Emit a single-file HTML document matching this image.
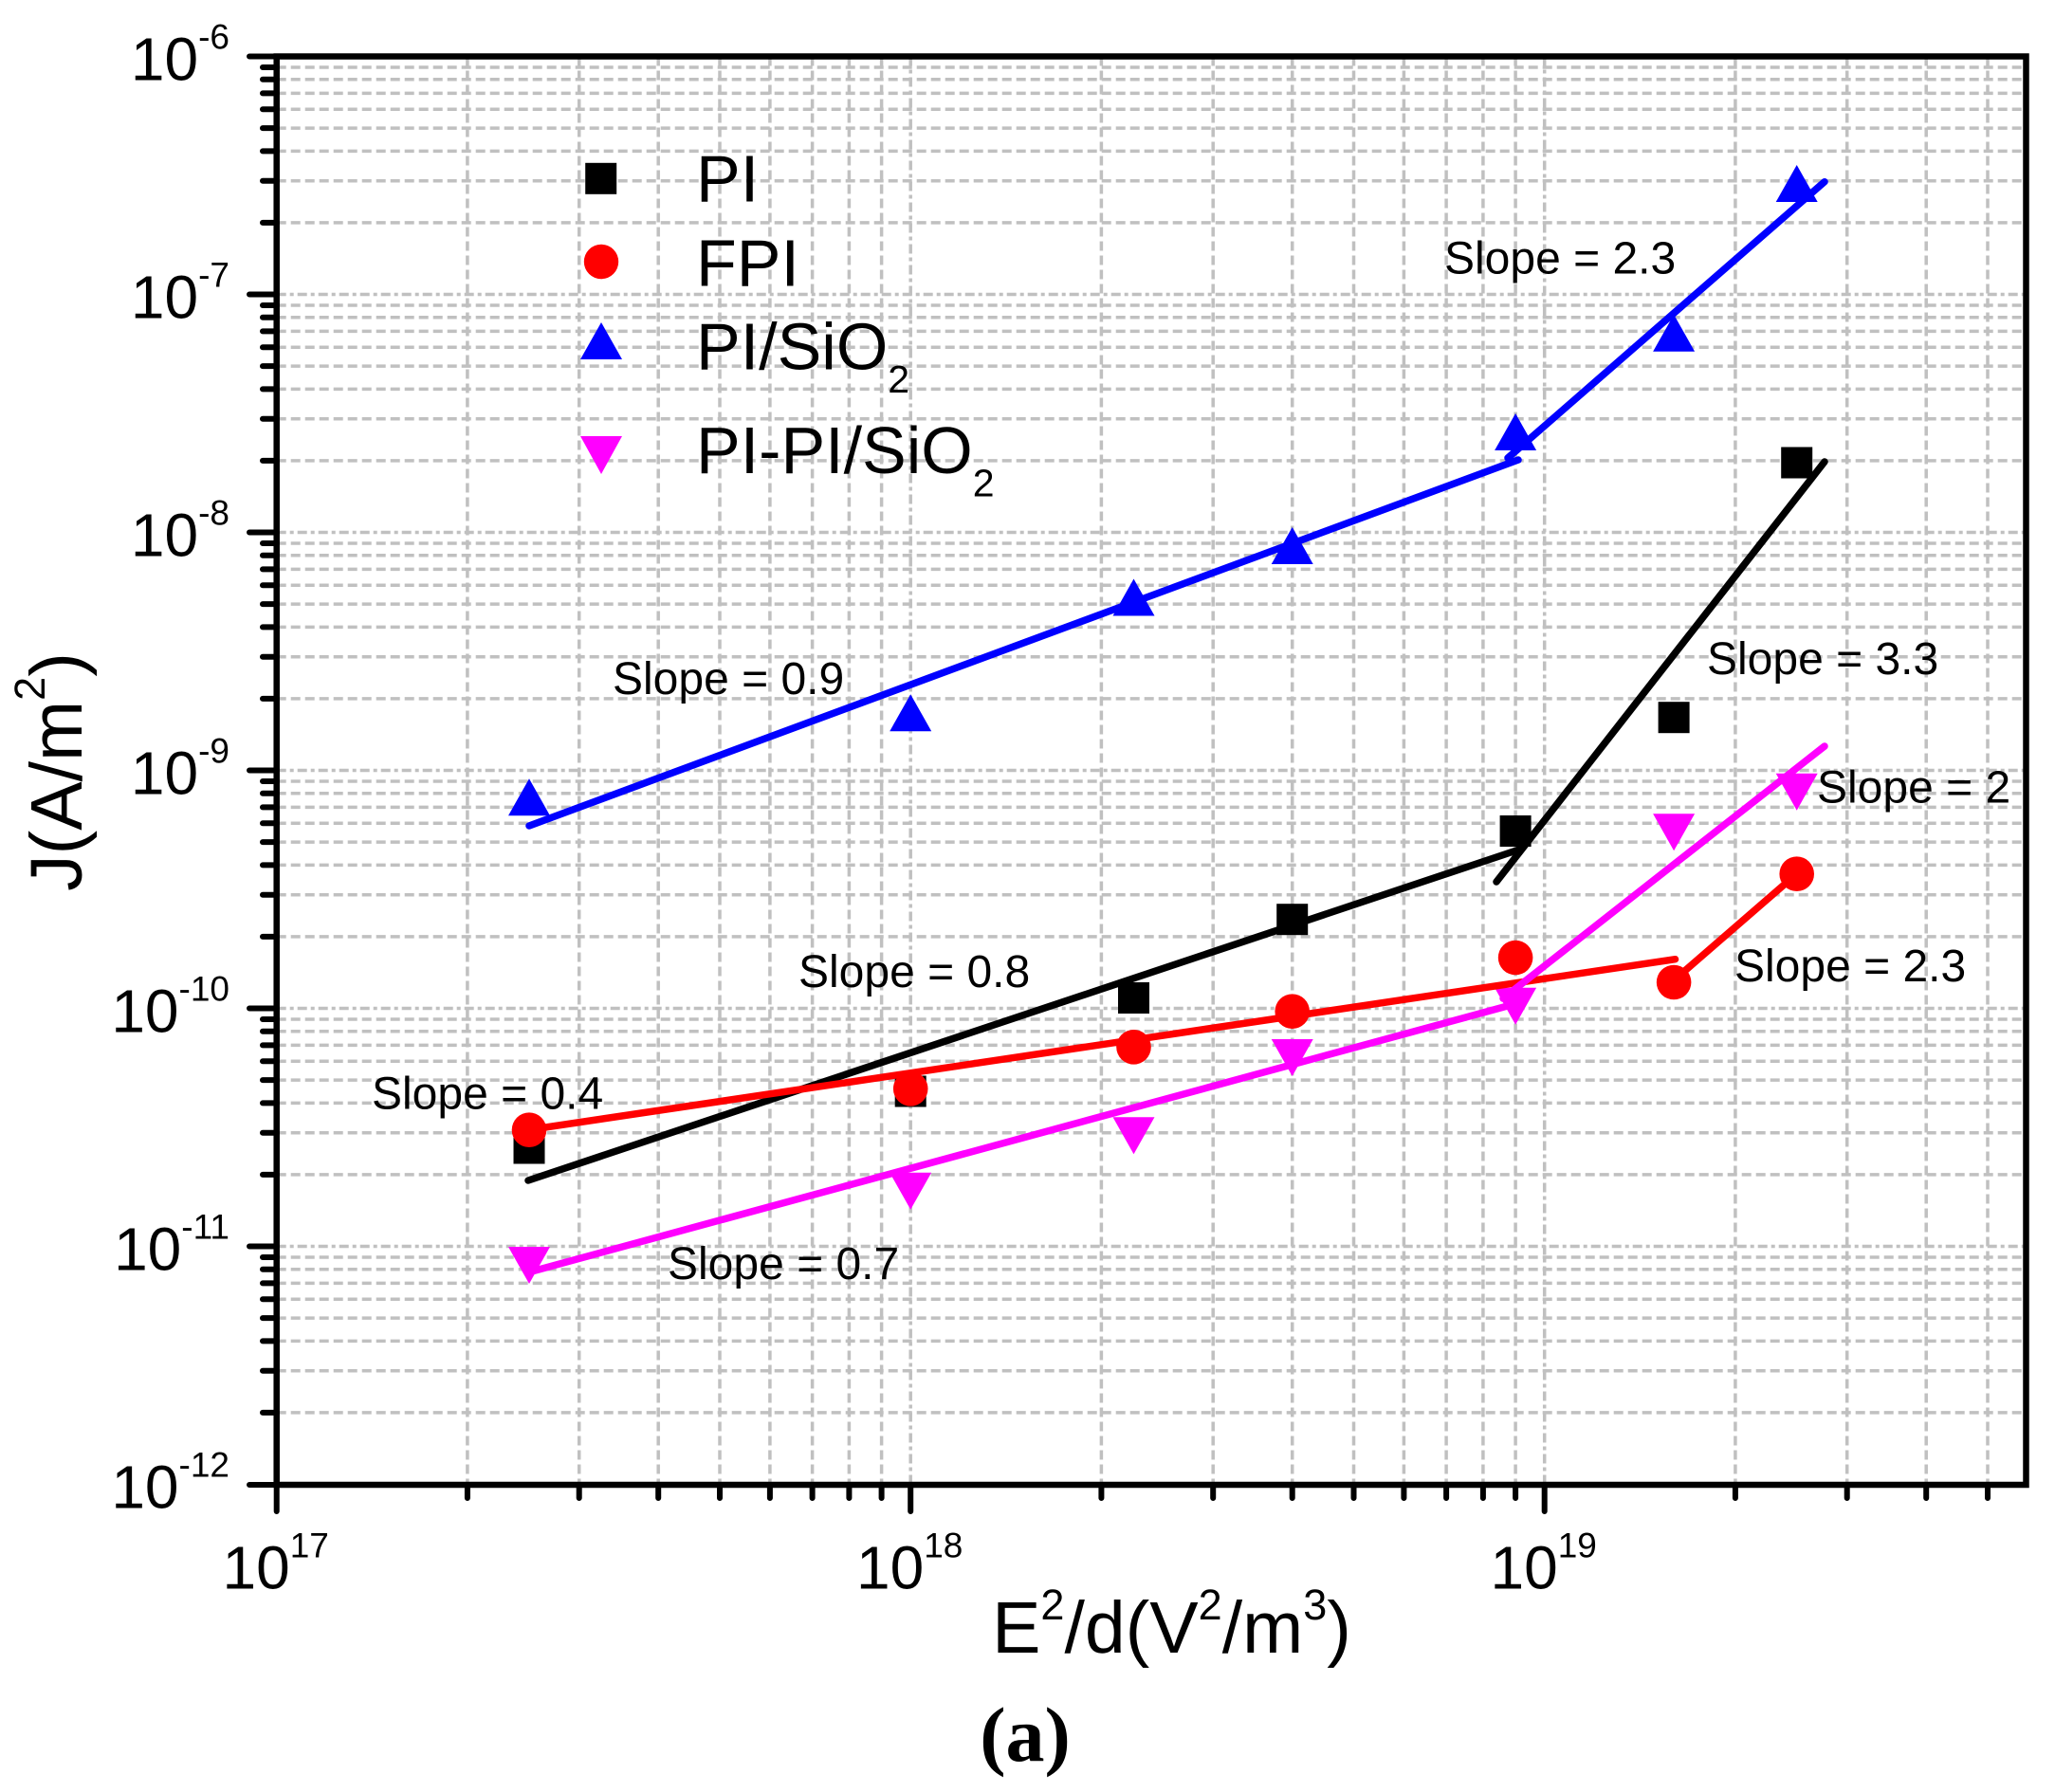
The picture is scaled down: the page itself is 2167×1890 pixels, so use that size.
<!DOCTYPE html>
<html><head><meta charset="utf-8"><style>
html,body{margin:0;padding:0;background:#fff;}
svg{display:block;}
</style></head><body>
<svg xmlns="http://www.w3.org/2000/svg" width="2167" height="1890" viewBox="0 0 2167 1890" font-family="'Liberation Sans', Arial, sans-serif">
<rect x="0" y="0" width="2167" height="1890" fill="#fff"/>
<!-- minor horizontal gridlines -->
<path fill="none" stroke="#c0c0c0" stroke-width="3.5" stroke-dasharray="10 5" d="
M291.7 71H2136.5 M291.7 83.8H2136.5 M291.7 98.4H2136.5 M291.7 115.2H2136.5 M291.7 135.1H2136.5 M291.7 159.4H2136.5 M291.7 190.7H2136.5 M291.7 234.9H2136.5
M291.7 322H2136.5 M291.7 334.8H2136.5 M291.7 349.4H2136.5 M291.7 366.2H2136.5 M291.7 386.1H2136.5 M291.7 410.4H2136.5 M291.7 441.7H2136.5 M291.7 485.9H2136.5
M291.7 573H2136.5 M291.7 585.8H2136.5 M291.7 600.4H2136.5 M291.7 617.2H2136.5 M291.7 637.1H2136.5 M291.7 661.4H2136.5 M291.7 692.7H2136.5 M291.7 736.9H2136.5
M291.7 824H2136.5 M291.7 836.8H2136.5 M291.7 851.4H2136.5 M291.7 868.2H2136.5 M291.7 888.1H2136.5 M291.7 912.4H2136.5 M291.7 943.7H2136.5 M291.7 987.9H2136.5
M291.7 1075H2136.5 M291.7 1087.8H2136.5 M291.7 1102.4H2136.5 M291.7 1119.2H2136.5 M291.7 1139.1H2136.5 M291.7 1163.4H2136.5 M291.7 1194.7H2136.5 M291.7 1238.9H2136.5
M291.7 1326H2136.5 M291.7 1338.8H2136.5 M291.7 1353.4H2136.5 M291.7 1370.2H2136.5 M291.7 1390.1H2136.5 M291.7 1414.4H2136.5 M291.7 1445.7H2136.5 M291.7 1489.9H2136.5"/>
<!-- minor vertical gridlines -->
<path fill="none" stroke="#c0c0c0" stroke-width="3.5" stroke-dasharray="10 5" d="
M492.9 59.5V1566 M610.7 59.5V1566 M694.2 59.5V1566 M759 59.5V1566 M811.9 59.5V1566 M856.6 59.5V1566 M895.4 59.5V1566 M929.6 59.5V1566
M1161.4 59.5V1566 M1279.2 59.5V1566 M1362.7 59.5V1566 M1427.5 59.5V1566 M1480.4 59.5V1566 M1525.1 59.5V1566 M1563.9 59.5V1566 M1598.1 59.5V1566
M1829.9 59.5V1566 M1947.7 59.5V1566 M2031.2 59.5V1566 M2096 59.5V1566"/>
<!-- major gridlines -->
<path fill="none" stroke="#c0c0c0" stroke-width="3.5" stroke-dasharray="10 4 4 4" d="
M291.7 310.5H2136.5 M291.7 561.5H2136.5 M291.7 812.5H2136.5 M291.7 1063.5H2136.5 M291.7 1314.5H2136.5
M960.2 59.5V1566 M1628.7 59.5V1566"/>

<!-- markers: black squares -->
<g fill="#000">
<rect x="541.5" y="1194.5" width="33" height="33"/>
<rect x="943.7" y="1134.5" width="33" height="33"/>
<rect x="1179" y="1036" width="33" height="33"/>
<rect x="1346.2" y="953.2" width="33" height="33"/>
<rect x="1581.6" y="860" width="33" height="33"/>
<rect x="1748.6" y="740.2" width="33" height="33"/>
<rect x="1878.2" y="471.5" width="33" height="33"/>
</g>
<!-- red circles -->
<g fill="#ff0000">
<circle cx="558" cy="1191.7" r="18.3"/>
<circle cx="960.2" cy="1148.3" r="18.3"/>
<circle cx="1195.5" cy="1104.3" r="18.3"/>
<circle cx="1362.7" cy="1066.7" r="18.3"/>
<circle cx="1598.1" cy="1010" r="18.3"/>
<circle cx="1765.1" cy="1036" r="18.3"/>
<circle cx="1894.7" cy="921.7" r="18.3"/>
</g>
<!-- blue up triangles -->
<g fill="#0000ff">
<polygon points="536,860.2 558,821.2 580,860.2"/>
<polygon points="938.2,771.2 960.2,732.2 982.2,771.2"/>
<polygon points="1173.5,649.5 1195.5,610.5 1217.5,649.5"/>
<polygon points="1340.7,595 1362.7,556 1384.7,595"/>
<polygon points="1576.1,475 1598.1,436 1620.1,475"/>
<polygon points="1743.1,370.7 1765.1,331.7 1787.1,370.7"/>
<polygon points="1872.7,213 1894.7,174 1916.7,213"/>
</g>
<!-- magenta down triangles -->
<g fill="#ff00ff">
<polygon points="536,1315 580,1315 558,1354"/>
<polygon points="938.2,1236.7 982.2,1236.7 960.2,1275.7"/>
<polygon points="1173.5,1178.3 1217.5,1178.3 1195.5,1217.3"/>
<polygon points="1340.7,1096 1384.7,1096 1362.7,1135"/>
<polygon points="1576.1,1041.7 1620.1,1041.7 1598.1,1080.7"/>
<polygon points="1743.1,858.3 1787.1,858.3 1765.1,897.3"/>
<polygon points="1872.7,815.7 1916.7,815.7 1894.7,854.7"/>
</g>

<!-- fit lines -->
<g fill="none" stroke-width="7.5" stroke-linecap="round">
<path stroke="#000" d="M557 1245L1605 895 M1578 930L1924 487"/>
<path stroke="#ff0000" d="M557 1191.7L1766.5 1011.7 M1765 1034L1894.5 921.7"/>
<path stroke="#0000ff" d="M558 871L1601 485 M1590 483L1924 191.7"/>
<path stroke="#ff00ff" d="M558 1341.7L1597 1059 M1585 1053L1924 787"/>
</g>

<!-- axes frame -->
<rect x="291.7" y="59.5" width="1844.8" height="1506.5" fill="none" stroke="#000" stroke-width="6.5" stroke-linejoin="miter"/>
<!-- ticks -->
<g stroke="#000" stroke-width="6" stroke-linecap="round" fill="none">
<path d="
M277 71H291.7 M277 83.8H291.7 M277 98.4H291.7 M277 115.2H291.7 M277 135.1H291.7 M277 159.4H291.7 M277 190.7H291.7 M277 234.9H291.7
M277 322H291.7 M277 334.8H291.7 M277 349.4H291.7 M277 366.2H291.7 M277 386.1H291.7 M277 410.4H291.7 M277 441.7H291.7 M277 485.9H291.7
M277 573H291.7 M277 585.8H291.7 M277 600.4H291.7 M277 617.2H291.7 M277 637.1H291.7 M277 661.4H291.7 M277 692.7H291.7 M277 736.9H291.7
M277 824H291.7 M277 836.8H291.7 M277 851.4H291.7 M277 868.2H291.7 M277 888.1H291.7 M277 912.4H291.7 M277 943.7H291.7 M277 987.9H291.7
M277 1075H291.7 M277 1087.8H291.7 M277 1102.4H291.7 M277 1119.2H291.7 M277 1139.1H291.7 M277 1163.4H291.7 M277 1194.7H291.7 M277 1238.9H291.7
M277 1326H291.7 M277 1338.8H291.7 M277 1353.4H291.7 M277 1370.2H291.7 M277 1390.1H291.7 M277 1414.4H291.7 M277 1445.7H291.7 M277 1489.9H291.7
M263 59.5H291.7 M263 310.5H291.7 M263 561.5H291.7 M263 812.5H291.7 M263 1063.5H291.7 M263 1314.5H291.7 M263 1566H291.7
M492.9 1566V1580 M610.7 1566V1580 M694.2 1566V1580 M759 1566V1580 M811.9 1566V1580 M856.6 1566V1580 M895.4 1566V1580 M929.6 1566V1580
M1161.4 1566V1580 M1279.2 1566V1580 M1362.7 1566V1580 M1427.5 1566V1580 M1480.4 1566V1580 M1525.1 1566V1580 M1563.9 1566V1580 M1598.1 1566V1580
M1829.9 1566V1580 M1947.7 1566V1580 M2031.2 1566V1580 M2096 1566V1580
M291.7 1566V1594 M960.2 1566V1594 M1628.7 1566V1594"/>
</g>

<!-- y tick labels -->
<g font-size="64" fill="#000" text-anchor="end">
<text x="242" y="84.5">10<tspan font-size="37" dy="-33">-6</tspan></text>
<text x="242" y="335.5">10<tspan font-size="37" dy="-33">-7</tspan></text>
<text x="242" y="586.5">10<tspan font-size="37" dy="-33">-8</tspan></text>
<text x="242" y="837.5">10<tspan font-size="37" dy="-33">-9</tspan></text>
<text x="242" y="1088.5">10<tspan font-size="37" dy="-33">-10</tspan></text>
<text x="242" y="1339.5">10<tspan font-size="37" dy="-33">-11</tspan></text>
<text x="242" y="1590.5">10<tspan font-size="37" dy="-33">-12</tspan></text>
</g>
<!-- x tick labels -->
<g font-size="64" fill="#000" text-anchor="middle">
<text x="290.7" y="1675.7">10<tspan font-size="37" dy="-33.4">17</tspan></text>
<text x="959.2" y="1675.7">10<tspan font-size="37" dy="-33.4">18</tspan></text>
<text x="1627.7" y="1675.7">10<tspan font-size="37" dy="-33.4">19</tspan></text>
</g>

<!-- axis titles -->
<text transform="translate(86,814) rotate(-90)" text-anchor="middle" font-size="77" fill="#000">J(A/m<tspan font-size="45" dy="-39">2</tspan><tspan dy="39">)</tspan></text>
<text x="1235.5" y="1743" text-anchor="middle" font-size="77" fill="#000">E<tspan font-size="45" dy="-35">2</tspan><tspan dy="35">/d(V</tspan><tspan font-size="45" dy="-35">2</tspan><tspan dy="35">/m</tspan><tspan font-size="45" dy="-35">3</tspan><tspan dy="35">)</tspan></text>
<text x="1081" y="1857" text-anchor="middle" font-size="82" font-weight="bold" font-family="'Liberation Serif', 'Times New Roman', serif" fill="#000">(a)</text>

<!-- legend -->
<rect x="617.2" y="171.8" width="33" height="33" fill="#000"/>
<circle cx="634" cy="276" r="18.2" fill="#ff0000"/>
<polygon points="612,379 634,340 656,379" fill="#0000ff"/>
<polygon points="612,460 656,460 634,500" fill="#ff00ff"/>
<g font-size="70" fill="#000">
<text x="734" y="212.3">PI</text>
<text x="734" y="301.7">FPI</text>
<text x="734" y="389.3">PI/SiO<tspan font-size="41" dy="24.7">2</tspan></text>
<text x="734" y="499">PI-PI/SiO<tspan font-size="41" dy="24.7">2</tspan></text>
</g>

<!-- slope annotations -->
<g font-size="48" fill="#000">
<text x="1523" y="288.3">Slope = 2.3</text>
<text x="646" y="732">Slope = 0.9</text>
<text x="842" y="1041">Slope = 0.8</text>
<text x="392" y="1169.6">Slope = 0.4</text>
<text x="704" y="1349">Slope = 0.7</text>
<text x="1800" y="711">Slope = 3.3</text>
<text x="1916" y="846.7">Slope = 2</text>
<text x="1829" y="1035">Slope = 2.3</text>
</g>
</svg>
</body></html>
